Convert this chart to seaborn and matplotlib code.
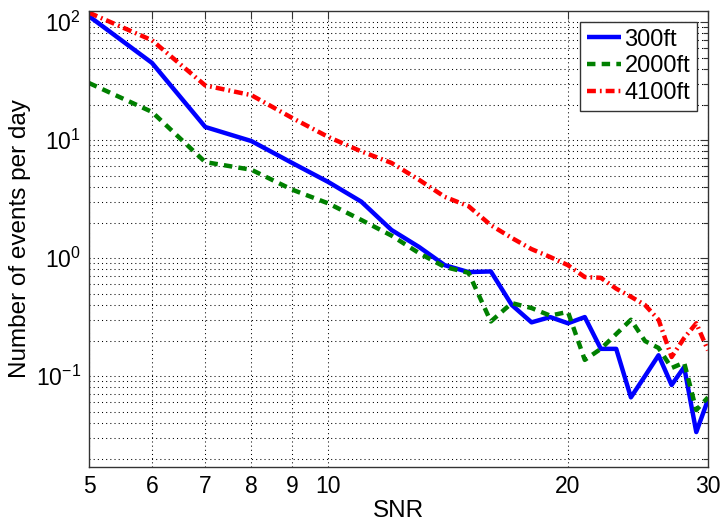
import numpy as np
import pandas as pd
import matplotlib
matplotlib.use("Agg")
import matplotlib.pyplot as plt
import matplotlib.ticker as mticker
import seaborn as sns

# SNR thresholds and daily event rates at three depths
snr = [5, 6, 7, 8, 9, 10, 11, 12, 13, 14, 15, 16, 17, 18, 19, 20, 21, 22, 23, 24, 25, 26, 27, 28, 29, 30]
rate_300ft = [112, 45, 12.9, 9.8, 6.4, 4.4, 3.0, 1.73, 1.24, 0.87, 0.76, 0.77, 0.40, 0.285, 0.316, 0.28,
              0.316, 0.17, 0.17, 0.066, 0.10, 0.15, 0.084, 0.119, 0.0335, 0.063]
rate_2000ft = [30.4, 17.3, 6.5, 5.6, 3.8, 2.9, 2.1, 1.55, 1.1, 0.84, 0.75, 0.29, 0.415, 0.377, 0.325, 0.35,
               0.137, 0.17, 0.227, 0.30, 0.198, 0.173, 0.117, 0.13, 0.0515, 0.066]
rate_4100ft = [120, 70, 29, 24, 15.4, 10.6, 8.0, 6.4, 4.6, 3.3, 2.75, 1.9, 1.48, 1.19, 1.02, 0.87,
               0.69, 0.68, 0.55, 0.47, 0.40, 0.30, 0.145, 0.21, 0.28, 0.165]
series_names = ["300ft", "2000ft", "4100ft"]
x_ticks = [5, 6, 7, 8, 9, 10, 20, 30]

sns.set_theme(style="white")
plt.rcParams["font.family"] = ["Liberation Sans", "DejaVu Sans"]
plt.rcParams["mathtext.fontset"] = "custom"
plt.rcParams["mathtext.rm"] = "Liberation Sans"
plt.rcParams["mathtext.it"] = "Liberation Sans:italic"
plt.rcParams["mathtext.bf"] = "Liberation Sans:bold"
plt.rcParams["text.color"] = "black"
plt.rcParams["axes.labelcolor"] = "black"
plt.rcParams["xtick.color"] = "black"
plt.rcParams["ytick.color"] = "black"

df = pd.DataFrame({
    "SNR": snr * 3,
    "rate": rate_300ft + rate_2000ft + rate_4100ft,
    "depth": [series_names[0]] * len(snr) + [series_names[1]] * len(snr) + [series_names[2]] * len(snr),
})

fig = plt.figure(figsize=(7.22, 5.21), dpi=100)
ax = fig.add_axes([0.1233, 0.1036, 0.8573, 0.8752])

styles = {
    "300ft": dict(color="#0000ff", dashes=None),
    "2000ft": dict(color="#008000", dashes=(1.9, 1.4)),
    "4100ft": dict(color="#ff0000", dashes=(2.0, 0.9, 0.4, 0.9)),
}
for name in series_names:
    sub = df[df["depth"] == name]
    st = styles[name]
    sns.lineplot(data=sub, x="SNR", y="rate", ax=ax, color=st["color"], lw=3.2, label=name)
    line = ax.lines[-1]
    if st["dashes"] is not None:
        line.set_dashes(st["dashes"])
    line.set_solid_capstyle("butt")
    line.set_dash_capstyle("butt")

ax.set_xscale("log")
ax.set_yscale("log")
ax.set_xlim(5, 30)
ax.set_ylim(10 ** -1.771, 10 ** 2.093)

ax.xaxis.set_major_locator(mticker.FixedLocator(x_ticks))
ax.xaxis.set_minor_locator(mticker.NullLocator())
ax.xaxis.set_major_formatter(mticker.FixedFormatter([str(t) for t in x_ticks]))
ax.yaxis.set_major_locator(mticker.LogLocator(base=10, numticks=10))
ax.yaxis.set_minor_locator(mticker.LogLocator(base=10, subs=np.arange(2, 10), numticks=20))
ax.yaxis.set_minor_formatter(mticker.NullFormatter())

grid_kw = dict(color="black", linestyle=(0, (1, 3)), linewidth=0.75)
ax.grid(True, which="major", axis="both", **grid_kw)
ax.grid(True, which="minor", axis="y", **grid_kw)

ax.tick_params(axis="both", which="both", direction="in", top=True, right=True,
               color="#333333", labelcolor="black", labelsize=16.5, pad=6)
ax.tick_params(axis="both", which="major", length=6, width=0.8)
ax.tick_params(axis="y", which="minor", length=3.5, width=0.8)
for sp in ax.spines.values():
    sp.set_color("#333333")
    sp.set_linewidth(1.0)

ax.set_xlabel("SNR", fontsize=17.5, labelpad=1, color="black")
ax.set_ylabel("Number of events per day", fontsize=17.5, labelpad=3, color="black")

leg = ax.legend(loc="upper right", fontsize=17, frameon=True, fancybox=False,
                edgecolor="#333333", handlelength=1.45, handletextpad=0.15,
                borderpad=0.3, labelspacing=0.2, borderaxespad=0.45)
leg.get_frame().set_linewidth(1.0)
leg.get_frame().set_alpha(1.0)
for t in leg.get_texts():
    t.set_color("black")

fig.savefig("out.png", dpi=100)
